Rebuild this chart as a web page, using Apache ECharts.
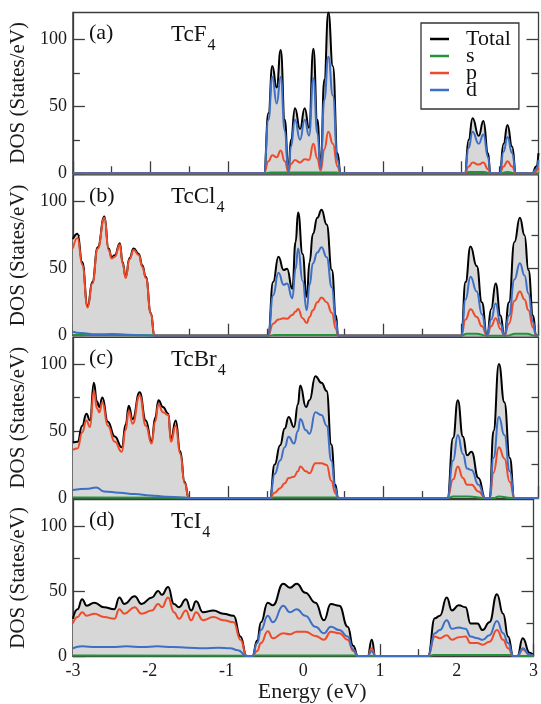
<!DOCTYPE html>
<html><head><meta charset="utf-8">
<script src="https://cdn.jsdelivr.net/npm/echarts@6/dist/echarts.min.js"></script>
<style>html,body{margin:0;padding:0;background:#fff}#c{width:541px;height:704px}</style>
</head><body><div id="c"></div>
<script>
// ---------- data (energy in eV, DOS in States/eV) ----------
const panelTags = ['(a)', '(b)', '(c)', '(d)'];
const compounds = [['TcF', '4'], ['TcCl', '4'], ['TcBr', '4'], ['TcI', '4']];
const seriesNames = ['Total', 's', 'p', 'd'];
const xMajorTicks = [-3, -2, -1, 0, 1, 2, 3];
const xMinorTicks = [-2.5, -1.5, -0.5, 0.5, 1.5, 2.5];
const yMajorTicks = [0, 50, 100];
const yMinorTicks = [25, 75];

// (a) TcF4
const aTotal = [[-3,0],[-0.6,0],[-0.537,0],[-0.48,45],[-0.43,80],[-0.374,64],[-0.322,92],[-0.27,40],[-0.223,2],[-0.19,25],[-0.138,48.5],[-0.073,33],[-0.013,48.5],[0.043,34],[0.099,93],[0.15,40],[0.193,5],[0.24,70],[0.292,120],[0.35,80],[0.41,15],[0.45,0],[0.5,0],[2.0,0],[2.05,0],[2.1,25],[2.15,41],[2.23,28],[2.29,39],[2.35,15],[2.38,0],[2.45,0],[2.5,0],[2.55,22],[2.6,36],[2.66,20],[2.71,0],[2.92,0],[2.97,5],[3,15]];
const aS = [[-3,0],[-0.537,0],[-0.45,0.6],[0.0,0.6],[0.4,0.6],[0.45,0],[2.05,0],[2.1,1],[2.3,1],[2.38,0],[2.5,0],[2.6,1],[2.71,0],[3,0]];
const aP = [[-3,0],[-0.6,0],[-0.537,0],[-0.48,9],[-0.43,13.5],[-0.374,12],[-0.322,17],[-0.27,9],[-0.223,1],[-0.19,7],[-0.138,10],[-0.073,8],[-0.013,10.5],[0.043,10],[0.099,22],[0.15,11],[0.193,2],[0.24,18],[0.292,31],[0.35,22],[0.41,5],[0.45,0],[0.5,0],[2.0,0],[2.05,0],[2.1,5],[2.15,8],[2.23,6.5],[2.29,8],[2.35,3],[2.38,0],[2.45,0],[2.5,0],[2.55,5],[2.6,9],[2.66,5],[2.71,0],[2.92,0],[3,4]];
const aD = [[-3,0],[-0.6,0],[-0.537,0],[-0.48,40],[-0.43,72],[-0.374,52],[-0.322,72],[-0.27,32],[-0.223,1],[-0.19,20],[-0.138,40],[-0.073,25],[-0.013,40],[0.043,28],[0.099,71],[0.15,30],[0.193,4],[0.24,55],[0.292,87],[0.35,58],[0.41,10],[0.45,0],[0.5,0],[2.0,0],[2.05,0],[2.1,19],[2.15,31],[2.23,22],[2.29,29],[2.35,12],[2.38,0],[2.45,0],[2.5,0],[2.55,16],[2.6,27],[2.66,15],[2.71,0],[2.92,0],[2.97,3],[3,10]];

// (b) TcCl4
const bTotal = [[-3,72],[-2.94,76],[-2.88,55],[-2.81,22],[-2.75,40],[-2.68,66],[-2.594,89],[-2.54,65],[-2.5,58.6],[-2.46,60],[-2.395,69],[-2.36,55],[-2.32,44],[-2.27,58],[-2.217,65],[-2.15,61],[-2.106,52.5],[-2.06,44],[-1.995,17],[-1.95,0],[-1.9,0],[-0.55,0],[-0.484,0],[-0.42,40],[-0.351,59],[-0.284,49],[-0.24,50],[-0.173,35],[-0.13,70],[-0.098,92],[-0.04,61],[0.013,29],[0.05,55],[0.093,76],[0.15,88],[0.204,94],[0.27,83],[0.337,49],[0.39,15],[0.418,0],[0.47,0],[1.95,0],[2.004,0],[2.06,40],[2.124,66.5],[2.204,52],[2.27,25],[2.337,0],[2.39,20],[2.448,39],[2.51,15],[2.56,0],[2.62,25],[2.69,70],[2.76,88],[2.82,75],[2.87,49],[2.93,15],[2.97,0],[3,0]];
const bS = [[-3,0.5],[-1.95,0.3],[-1.9,0],[-0.48,0],[-0.4,0.5],[0.4,0.5],[0.45,0],[2.0,0],[2.08,1.5],[2.2,1.5],[2.33,0],[2.6,0],[2.7,1.5],[2.85,1.5],[2.95,0],[3,0]];
const bP = [[-3,65],[-2.94,73],[-2.88,53],[-2.81,21],[-2.75,39],[-2.68,65],[-2.594,88],[-2.54,64],[-2.5,57.6],[-2.46,59],[-2.395,68],[-2.36,54],[-2.32,43],[-2.27,57],[-2.217,64],[-2.15,60],[-2.106,51.5],[-2.06,43],[-1.995,16.5],[-1.95,0],[-0.55,0],[-0.484,0],[-0.42,9],[-0.351,12],[-0.284,13],[-0.24,12.6],[-0.173,15.5],[-0.13,18],[-0.098,20],[-0.04,13],[0.013,9.4],[0.05,14],[0.093,19],[0.15,25],[0.204,28.6],[0.27,25],[0.337,17],[0.39,5],[0.418,0],[0.47,0],[1.95,0],[2.004,0],[2.06,12],[2.124,19.7],[2.204,14],[2.27,7],[2.337,0],[2.39,7],[2.448,13],[2.51,5],[2.56,0],[2.62,9],[2.69,26],[2.76,33],[2.82,27],[2.87,19],[2.93,6],[2.97,0],[3,0]];
const bD = [[-3,3],[-2.9,2],[-2.7,1],[-2.5,1.3],[-2.3,0.7],[-2.1,0.3],[-1.95,0],[-0.55,0],[-0.484,0],[-0.42,30],[-0.351,47],[-0.284,38],[-0.24,39],[-0.173,28],[-0.13,50],[-0.098,65],[-0.04,41],[0.013,19],[0.05,38],[0.093,54],[0.15,62],[0.204,66],[0.27,58.6],[0.337,36],[0.39,11],[0.418,0],[0.47,0],[1.95,0],[2.004,0],[2.06,27],[2.124,44],[2.204,33],[2.27,16],[2.337,0],[2.39,12],[2.448,24],[2.51,9],[2.56,0],[2.62,15],[2.69,42],[2.76,54],[2.82,45],[2.87,31.5],[2.93,10],[2.97,0],[3,0]];

// (c) TcBr4
const cTotal = [[-3,41.5],[-2.94,42],[-2.88,54],[-2.826,63],[-2.78,58],[-2.73,86],[-2.69,72],[-2.66,68],[-2.62,75],[-2.55,57],[-2.46,46],[-2.37,38],[-2.32,55],[-2.28,69],[-2.23,59],[-2.14,79],[-2.06,58],[-1.986,42],[-1.94,60],[-1.897,73],[-1.84,68],[-1.77,63],[-1.737,44],[-1.675,58],[-1.617,35],[-1.56,12],[-1.506,0],[-1.45,0],[-0.52,0],[-0.462,0],[-0.4,25],[-0.33,39.5],[-0.27,52],[-0.22,60.5],[-0.151,53],[-0.1,70],[-0.07,84],[0.004,68],[0.049,73],[0.125,91],[0.204,86],[0.27,80],[0.33,40],[0.382,10],[0.418,0],[0.47,0],[1.77,0],[1.826,0],[1.9,45],[1.96,73],[2.026,46],[2.08,32],[2.137,34.6],[2.226,15],[2.315,0],[2.37,0],[2.42,50],[2.49,100],[2.56,71.6],[2.63,30],[2.69,0],[2.75,0],[3,0]];
const cS = [[-3,0.5],[-1.5,0.3],[-1.45,0],[-0.46,0],[-0.4,0.5],[0.4,0.5],[0.45,0],[1.83,0],[1.9,1.2],[2.1,1.2],[2.3,0],[2.42,0],[2.49,1.2],[2.65,0],[3,0]];
const cP = [[-3,36],[-2.94,37],[-2.88,49],[-2.826,58],[-2.78,53],[-2.73,80],[-2.69,67],[-2.66,64],[-2.62,71.6],[-2.55,54],[-2.46,42],[-2.37,34.5],[-2.32,51],[-2.28,65],[-2.23,55.5],[-2.14,76.5],[-2.06,54],[-1.986,40.7],[-1.94,57],[-1.897,70],[-1.84,64],[-1.77,62],[-1.737,42],[-1.675,54],[-1.617,33],[-1.56,11],[-1.506,0],[-0.52,0],[-0.462,0],[-0.4,4],[-0.33,7.4],[-0.27,11],[-0.22,15],[-0.151,16],[-0.1,20],[-0.07,23.5],[0.004,20],[0.049,18.5],[0.125,26],[0.204,26],[0.27,24.7],[0.33,13],[0.382,3.7],[0.418,0],[0.47,0],[1.77,0],[1.826,0],[1.9,14],[1.96,23.5],[2.026,15],[2.08,10],[2.137,10],[2.226,5],[2.315,0],[2.37,0],[2.42,19],[2.49,38],[2.56,29.6],[2.63,12],[2.69,0],[3,0]];
const cD = [[-3,6],[-2.8,7],[-2.7,8],[-2.6,5],[-2.4,4],[-2.2,3],[-2.0,2],[-1.8,1],[-1.6,0.5],[-1.5,0],[-0.52,0],[-0.462,0],[-0.4,18],[-0.33,28],[-0.27,38],[-0.22,45.7],[-0.151,40.7],[-0.1,50],[-0.07,59],[0.004,50.6],[0.049,48],[0.125,64],[0.204,62],[0.27,54],[0.33,28],[0.382,7.4],[0.418,0],[0.47,0],[1.77,0],[1.826,0],[1.9,28],[1.96,47],[2.026,33],[2.08,22],[2.137,21],[2.226,10],[2.315,0],[2.37,0],[2.42,30],[2.49,60.5],[2.56,47],[2.63,20],[2.69,0],[3,0]];

// (d) TcI4
const dTotal = [[-3,28.7],[-2.94,36],[-2.88,43.7],[-2.82,38.7],[-2.72,41],[-2.594,37.5],[-2.46,36],[-2.395,45],[-2.33,40],[-2.195,46],[-2.106,40],[-1.97,45],[-1.89,50],[-1.84,47],[-1.76,53],[-1.684,40],[-1.617,37.5],[-1.528,43.7],[-1.46,35],[-1.395,42],[-1.306,33.7],[-1.17,35],[-1.04,32.5],[-0.906,31],[-0.817,15],[-0.737,0],[-0.662,0],[-0.6,12],[-0.55,26],[-0.462,41],[-0.395,39],[-0.26,55.5],[-0.173,52.5],[-0.084,55.5],[0.027,48.7],[0.16,41],[0.27,27.5],[0.36,40],[0.47,38.7],[0.58,22.5],[0.65,8],[0.715,0],[0.84,0],[0.893,12.5],[0.94,0],[1.57,0],[1.626,0],[1.715,29],[1.78,31],[1.87,45],[1.937,35],[2.026,39],[2.115,37.5],[2.18,25],[2.27,25],[2.337,20],[2.426,26],[2.524,47.5],[2.604,32.5],[2.67,15],[2.737,0],[2.79,0],[2.86,13.7],[2.95,2.5],[3,0]];
const dS = [[-3,0.5],[-0.74,0.3],[-0.7,0],[-0.6,0.5],[0.7,0.5],[0.72,0],[1.63,0],[1.7,0.8],[2.7,0.8],[2.74,0],[3,0]];
const dP = [[-3,25],[-2.94,30],[-2.88,33.7],[-2.82,31],[-2.72,32.5],[-2.594,30],[-2.46,28.7],[-2.395,36],[-2.33,32.5],[-2.195,37.5],[-2.106,32.5],[-1.97,35],[-1.89,40],[-1.84,37.5],[-1.76,45],[-1.684,33.7],[-1.617,28.7],[-1.528,35],[-1.46,27.5],[-1.395,33.7],[-1.306,27.5],[-1.17,30],[-1.04,27.5],[-0.906,26],[-0.817,12.5],[-0.737,0],[-0.662,0],[-0.6,4],[-0.55,10],[-0.462,19],[-0.395,13.7],[-0.26,17.5],[-0.173,16.7],[-0.084,18.7],[0.027,18.7],[0.16,15.5],[0.27,12.5],[0.36,18.7],[0.47,17.5],[0.58,12.5],[0.65,4],[0.715,0],[0.84,0],[0.893,6],[0.94,0],[1.57,0],[1.626,0],[1.715,15],[1.78,13.7],[1.87,16],[1.937,12.5],[2.026,14.5],[2.115,15],[2.18,10],[2.27,10],[2.337,8.7],[2.426,11],[2.524,20],[2.604,12.5],[2.67,6],[2.737,0],[2.79,0],[2.86,5],[2.95,1],[3,0]];
const dD = [[-3,6],[-2.88,7.5],[-2.7,7],[-2.5,7],[-2.3,7.5],[-2.1,7],[-1.9,7.5],[-1.7,7],[-1.5,6.5],[-1.3,6],[-1.1,6.5],[-0.95,6],[-0.85,4.5],[-0.737,0],[-0.662,0],[-0.6,10],[-0.55,20],[-0.462,31],[-0.395,26],[-0.26,38.7],[-0.173,33.7],[-0.084,36],[0.027,31],[0.16,22.5],[0.27,17.5],[0.36,22.5],[0.47,20],[0.58,15],[0.65,5],[0.715,0],[0.84,0],[0.893,4],[0.94,0],[1.57,0],[1.626,0],[1.715,17.5],[1.78,20],[1.87,27.5],[1.937,21],[2.026,22],[2.115,21],[2.18,15],[2.27,13.7],[2.337,12.5],[2.426,16],[2.524,27],[2.604,17.5],[2.67,10],[2.737,0],[2.79,0],[2.86,6],[2.95,1],[3,0]];

const panelData = [
  [aTotal, aS, aP, aD],
  [bTotal, bS, bP, bD],
  [cTotal, cS, cP, cD],
  [dTotal, dS, dP, dD]
];

// ---------- layout / style ----------
const FONT = 'Liberation Serif';
const colors = ['#000000', '#23923a', '#ee4b2b', '#3d6fc6'];
const AX = '#3c3c3c';
const gridLeft = 72, gridRight = 2.5, firstTop = 12.5, step = 162.4, panelH = 160.8;

const chart = echarts.init(document.getElementById('c'), null, {renderer: 'canvas'});
const grids = [], xAxes = [], yAxes = [], series = [], graphics = [];

function tickStyle(len, vals) {
  return {show: true, inside: true, length: len, customValues: vals, lineStyle: {color: AX, width: 1.3}};
}

for (let i = 0; i < 4; i++) {
  const top = firstTop + i * step;
  grids.push({left: gridLeft, right: gridRight, top: top, height: panelH, show: true,
    borderColor: AX, borderWidth: 1.3, backgroundColor: 'transparent'});
  const last = i === 3;
  xAxes.push({gridIndex: i, type: 'value', min: -3, max: 3, position: 'bottom',
    axisLine: {show: true, onZero: false, lineStyle: {color: AX, width: 1.3}},
    axisTick: tickStyle(12, xMajorTicks),
    axisLabel: {show: last, customValues: xMajorTicks, fontFamily: FONT, fontSize: 18, color: '#1a1a1a', margin: 6},
    splitLine: {show: false},
    name: last ? 'Energy (eV)' : '', nameLocation: 'middle', nameGap: 23,
    nameTextStyle: {fontFamily: FONT, fontSize: 22, color: '#1a1a1a', padding: [0, 0, 0, 18]}});
  xAxes.push({gridIndex: i, type: 'value', min: -3, max: 3, position: 'bottom',
    axisLine: {show: false, onZero: false}, axisLabel: {show: false}, splitLine: {show: false},
    axisTick: tickStyle(7, xMinorTicks)});
  yAxes.push({gridIndex: i, type: 'value', min: 0, max: 120, position: 'left',
    axisLine: {show: true, onZero: false, lineStyle: {color: AX, width: 1.3}},
    axisTick: tickStyle(12, yMajorTicks),
    axisLabel: {show: true, customValues: yMajorTicks, fontFamily: FONT, fontSize: 18, color: '#1a1a1a', margin: 6},
    splitLine: {show: false},
    name: 'DOS (States/eV)', nameLocation: 'middle', nameGap: 40,
    nameTextStyle: {fontFamily: FONT, fontSize: 21, color: '#1a1a1a'}});
  yAxes.push({gridIndex: i, type: 'value', min: 0, max: 120, position: 'left',
    axisLine: {show: false, onZero: false}, axisLabel: {show: false}, splitLine: {show: false},
    axisTick: tickStyle(7, yMinorTicks)});
  yAxes.push({gridIndex: i, type: 'value', min: 0, max: 120, position: 'right',
    axisLine: {show: false, onZero: false}, axisLabel: {show: false}, splitLine: {show: false},
    axisTick: tickStyle(12, [50, 100])});
  yAxes.push({gridIndex: i, type: 'value', min: 0, max: 120, position: 'right',
    axisLine: {show: false, onZero: false}, axisLabel: {show: false}, splitLine: {show: false},
    axisTick: tickStyle(7, yMinorTicks)});

  for (let k = 0; k < 4; k++) {
    const s = {name: seriesNames[k], type: 'line', xAxisIndex: i * 2, yAxisIndex: i * 4,
      data: panelData[i][k], showSymbol: false, symbol: 'none', smooth: 0.5, smoothMonotone: 'x',
      lineStyle: {color: colors[k], width: 2}, itemStyle: {color: colors[k]},
      z: 2 + k, animation: false, silent: true};
    if (k === 0) s.areaStyle = {color: '#d7d7d7', opacity: 1, origin: 'start'};
    series.push(s);
  }

  graphics.push({type: 'text', left: 89, top: top + 10,
    style: {text: panelTags[i], font: '22px "' + FONT + '"', fill: '#111'}});
  graphics.push({type: 'text', left: 171, top: top + 11,
    style: {text: '{m|' + compounds[i][0] + '}{s|' + compounds[i][1] + '}', fill: '#111',
      rich: {m: {fontFamily: FONT, fontSize: 23, lineHeight: 24, verticalAlign: 'top', fill: '#111'},
             s: {fontFamily: FONT, fontSize: 16, lineHeight: 16, verticalAlign: 'top', padding: [14, 0, 0, 1], fill: '#111'}}}});
}

chart.setOption({
  animation: false,
  backgroundColor: '#ffffff',
  grid: grids, xAxis: xAxes, yAxis: yAxes, series: series,
  legend: {data: seriesNames, orient: 'vertical', left: 421, top: 23,
    backgroundColor: '#fff', borderColor: '#333', borderWidth: 1.3, padding: [5, 8, 8, 9],
    itemGap: -5, itemWidth: 19, itemHeight: 2.5, icon: 'rect', selectedMode: false,
    textStyle: {fontFamily: FONT, fontSize: 22, color: '#111', lineHeight: 16.8, padding: [0, 0, 0, 12]}},
  graphic: graphics
});
</script></body></html>
